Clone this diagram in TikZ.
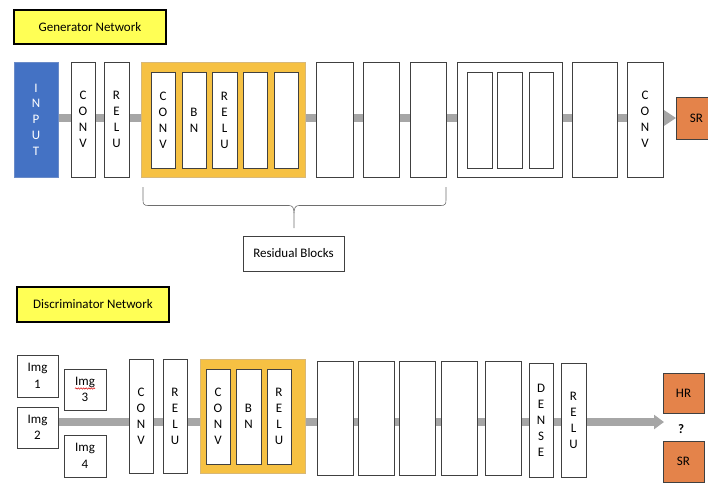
\documentclass[tikz,border=0pt]{standalone}
\usepackage{fontspec}
\setmainfont{Carlito}
\usetikzlibrary{arrows.meta,backgrounds,decorations.pathmorphing,calc}
\definecolor{boxline}{HTML}{404040}
\definecolor{inblue}{HTML}{4472C4}
\definecolor{inblueline}{HTML}{6A8BC8}
\definecolor{gold}{HTML}{F6C143}
\definecolor{goldline}{HTML}{D8B878}
\definecolor{srorange}{HTML}{E4834A}
\definecolor{titleyellow}{HTML}{FFFF55}
\definecolor{bargray}{HTML}{A6A6A6}
\definecolor{bracegray}{HTML}{6E6E6E}
\tikzset{
  base/.style={draw=boxline, line width=0.9pt, fill=white, inner sep=0pt, outer sep=0pt,
    align=center, text=black, font=\fontsize{13}{16}\selectfont},
  plainbox/.style={base},
  inbox/.style={base, fill=inblue, draw=inblueline, text=white, font=\fontsize{13}{15.7}\selectfont},
  goldbox/.style={base, fill=gold, draw=goldline},
  outbox/.style={base, fill=srorange},
  titlebox/.style={base, fill=titleyellow, draw=black, line width=1.2pt, text=black},
  imgbox/.style={base, font=\fontsize{13}{16.5}\selectfont},
  bar/.style={draw=bargray, line width=8pt},
}
\newcommand\mybox[7]{\node[#1, anchor=north west, minimum width={(#5-#3)*1pt}, minimum height={(#6-#4)*1pt}] (#2) at (#3,#4) {#7};}
\begin{document}
\begin{tikzpicture}[x=1pt,y=-1pt]
\useasboundingbox (0,0) rectangle (708,482);
\clip (0,0) rectangle (708,482);
% ---------------- Generator ----------------
\mybox{titlebox}{gtitle}{14}{10}{166}{44}{Generator Network}
\mybox{inbox}{input}{14}{62}{58}{177}{I\\N\\P\\U\\T}
\mybox{plainbox}{gconv}{71}{62}{95}{177}{C\\O\\N\\V}
\mybox{plainbox}{grelu}{104}{62}{129}{177}{R\\E\\L\\U}
\mybox{goldbox}{gres}{141}{62}{305}{177}{}
\mybox{plainbox}{rconv}{151}{72}{175}{168}{C\\O\\N\\V}
\mybox{plainbox}{rbn}{182}{72}{206}{168}{B\\N}
\mybox{plainbox}{rrelu}{212}{72}{237}{168}{R\\E\\L\\U}
\mybox{plainbox}{re1}{243}{72}{267}{168}{}
\mybox{plainbox}{re2}{274}{72}{298}{168}{}
\mybox{plainbox}{gb2}{316}{62}{353}{177}{}
\mybox{plainbox}{gb3}{363}{62}{399}{177}{}
\mybox{plainbox}{gb4}{410}{62}{446}{177}{}
\mybox{plainbox}{gb5}{457}{62}{562}{177}{}
\mybox{plainbox}{gb5a}{467}{72}{492}{168}{}
\mybox{plainbox}{gb5b}{497}{72}{522}{168}{}
\mybox{plainbox}{gb5c}{529}{72}{553}{168}{}
\mybox{plainbox}{gb6}{572}{62}{617}{177}{}
\mybox{plainbox}{gconv2}{627}{62}{663}{177}{C\\O\\N\\V}
\mybox{outbox}{gsr}{676}{97}{717}{139}{SR}
% brace
\draw[bracegray, line width=0.6pt]
  (143,187) -- (143,200) .. controls (143,204) and (144,205.5) .. (148,205.5)
  -- (289,205.5) .. controls (292.5,205.5) and (294,208) .. (294,213) -- (294,228);
\draw[bracegray, line width=0.6pt]
  (446,187) -- (446,200) .. controls (446,204) and (445,205.5) .. (441,205.5)
  -- (299,205.5) .. controls (295.5,205.5) and (294,208) .. (294,213);
\mybox{plainbox}{resid}{243}{236}{344}{271}{Residual Blocks}
% ---------------- Discriminator ----------------
\mybox{titlebox}{dtitle}{17}{287}{169}{322}{Discriminator Network}
\mybox{imgbox}{img1}{17}{355}{58}{397}{Img\\1}
\mybox{imgbox}{img2}{17}{407}{58}{448}{Img\\2}
\mybox{imgbox}{img3}{64}{369}{106}{410}{Img\\3}
\mybox{imgbox}{img4}{64}{435}{106}{477}{Img\\4}
\draw[red!85!black, line width=0.5pt, decorate, decoration={snake, amplitude=0.7pt, segment length=2.6pt}]
  ($(img3.center)+(-10,-1)$) -- ($(img3.center)+(10,-1)$);
\mybox{plainbox}{dconv}{129}{359}{153}{473}{C\\O\\N\\V}
\mybox{plainbox}{drelu}{163}{359}{187}{473}{R\\E\\L\\U}
\mybox{goldbox}{dres}{200}{359}{305}{473}{}
\mybox{plainbox}{dconv2}{206}{369}{230}{464}{C\\O\\N\\V}
\mybox{plainbox}{dbn}{236}{369}{261}{464}{B\\N}
\mybox{plainbox}{drelu2}{267}{369}{291}{464}{R\\E\\L\\U}
\mybox{plainbox}{db1}{317}{361}{353}{475}{}
\mybox{plainbox}{db2}{358}{361}{394}{475}{}
\mybox{plainbox}{db3}{399}{361}{435}{475}{}
\mybox{plainbox}{db4}{441}{361}{477}{475}{}
\mybox{plainbox}{db5}{485}{361}{521}{475}{}
\mybox{plainbox}{ddense}{529}{363}{553}{477}{D\\E\\N\\S\\E}
\mybox{plainbox}{drelu3}{561}{363}{586}{477}{R\\E\\L\\U}
\mybox{outbox}{dhr}{663}{373}{704}{413}{HR}
\mybox{outbox}{dsr}{663}{441}{704}{482}{SR}
\node[font=\fontsize{13}{15}\selectfont\bfseries, inner sep=0pt] (qm) at (681,429) {?};
\coordinate (dtip) at (664,422);
% ---------------- Bars ----------------
\begin{scope}[on background layer]
  \draw[bar, -{Triangle[length=12pt,width=15pt]}] (input.east |- gsr.west) -- (gsr.west);
  \draw[bar, -{Triangle[length=10pt,width=14pt]}] (img2.east |- dtip) -- (dtip);
\end{scope}
\end{tikzpicture}
\end{document}
